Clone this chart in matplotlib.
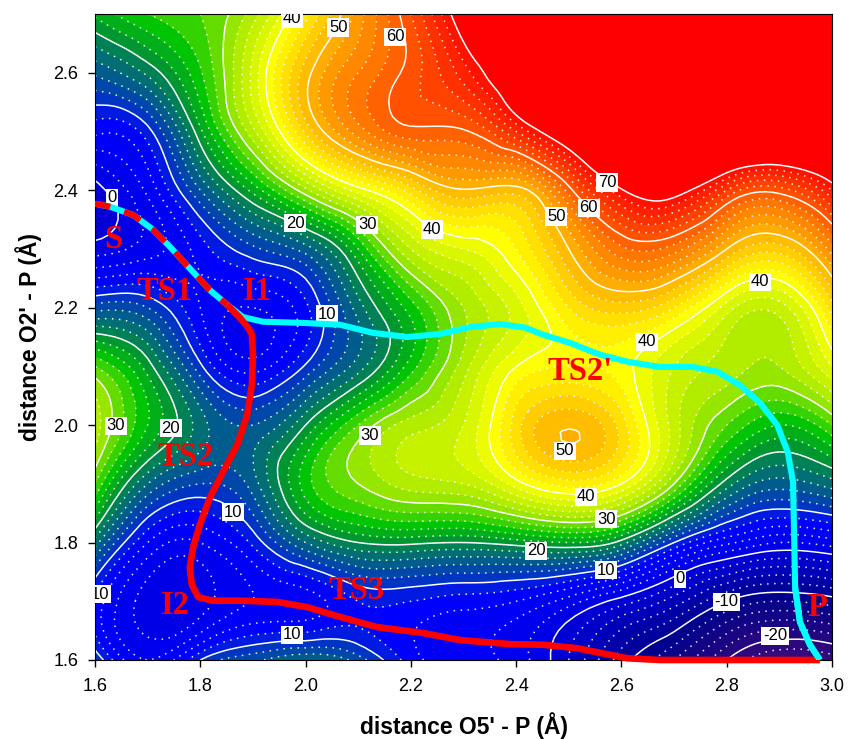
#!/usr/bin/env python3
import numpy as np
import matplotlib
matplotlib.use("Agg")
import matplotlib.pyplot as plt
import matplotlib.tri as mtri
from matplotlib.colors import LinearSegmentedColormap, BoundaryNorm

# energy surface, rows from y = 2.7 down to y = 1.6
x_vals = [1.6, 1.7, 1.8, 1.9, 2.0, 2.1, 2.2, 2.3, 2.4, 2.5, 2.6, 2.7, 2.8, 2.9, 3.0]
y_vals = [2.7, 2.6, 2.5, 2.4, 2.3, 2.2, 2.1, 2.0, 1.9, 1.8, 1.7, 1.6]
energy = [
    [22.4, 26, 28, 33, 43, 53, 62, 73, 85, 90, 90, 90, 90, 90, 90],
    [14.4, 18.5, 25.7, 36.6, 49, 56, 61, 67, 76, 86, 90, 90, 90, 90, 90],
    [6.5, 9.2, 21.5, 33.4, 46.4, 55, 59.3, 59.7, 66, 75, 84, 86, 84, 82, 84],
    [-1, 4.5, 14, 22.7, 31.4, 39, 45, 49.8, 49, 59, 69.7, 72, 64, 61, 68],
    [1, 3, 7, 11.5, 15, 24, 34, 38, 42, 50, 57.5, 57, 50, 47, 55],
    [13, 12, 6, 4, 7.5, 17, 25, 32, 37, 44, 47, 44, 37, 35, 45],
    [28, 21, 10.5, 5, 10.3, 17, 25, 33, 40, 42, 41, 36, 33, 32, 38],
    [33, 24, 17, 14, 20, 28, 33, 36, 45, 49.8, 45, 35, 28, 24, 28],
    [28, 16, 12, 15, 25, 30, 33, 34, 39, 43, 40, 30, 19, 15, 17],
    [17, 6, 4, 8.5, 16, 20, 20.5, 20, 21, 22, 19, 10, 4.5, 2, 3],
    [7.5, 1, 1, 4, 5, 8, 8, 7, 6, 3, -1, -5, -10, -12, -11],
    [12, 4, 10, 13.5, 16, 13, 7, 5, 3, -2, -9, -14, -20, -24, -23],
]

label_x = [1.974, 2.062, 2.170, 2.573, 2.538, 2.476, 2.240, 2.117, 1.980, 1.632, 2.041, 2.863, 2.649, 1.640,
           1.744, 2.122, 2.493, 2.533, 2.571, 2.438, 2.571, 2.711, 2.799, 2.892, 1.862, 1.610, 1.974]
label_y = [2.692, 2.677, 2.661, 2.413, 2.370, 2.355, 2.333, 2.341, 2.344, 2.387, 2.189, 2.244, 2.142, 1.999,
           1.995, 1.982, 1.956, 1.878, 1.840, 1.786, 1.753, 1.738, 1.699, 1.641, 1.852, 1.712, 1.643]
label_txt = ["40", "50", "60", "70", "60", "50", "40", "30", "20", "0", "10", "40", "40", "30",
             "20", "30", "50", "40", "30", "20", "10", "0", "-10", "-20", "10", "10", "10"]

# minimum energy paths
shared_x = [1.600, 1.628, 1.672, 1.710, 1.742, 1.786, 1.818, 1.851]
shared_y = [2.377, 2.372, 2.358, 2.333, 2.304, 2.261, 2.230, 2.205]
cyan_x = shared_x + [1.881, 1.919, 1.995, 2.065, 2.128, 2.193, 2.255, 2.312, 2.369, 2.417, 2.451, 2.502, 2.559,
                     2.611, 2.673, 2.736, 2.782, 2.825, 2.863, 2.896, 2.916, 2.926, 2.928, 2.930, 2.939, 2.958, 2.977]
cyan_y = shared_y + [2.184, 2.176, 2.174, 2.171, 2.157, 2.150, 2.155, 2.167, 2.172, 2.166, 2.154, 2.140, 2.120,
                     2.108, 2.099, 2.099, 2.091, 2.068, 2.038, 2.000, 1.954, 1.903, 1.813, 1.723, 1.665, 1.626, 1.600]
red_x = [1.875, 1.891, 1.898, 1.900, 1.898, 1.889, 1.870, 1.843, 1.818, 1.799, 1.786, 1.780, 1.784, 1.796, 1.824,
         1.875, 1.946, 2.003, 2.071, 2.136, 2.223, 2.293, 2.388, 2.451, 2.516, 2.611, 2.673, 2.977]
red_y = [2.183, 2.166, 2.154, 2.120, 2.068, 2.017, 1.966, 1.920, 1.876, 1.830, 1.791, 1.757, 1.728, 1.707, 1.701,
         1.701, 1.699, 1.690, 1.672, 1.656, 1.646, 1.634, 1.627, 1.626, 1.620, 1.603, 1.600, 1.600]

state_x = [1.634, 1.733, 1.909, 1.771, 2.522, 1.753, 2.097, 2.973]
state_y = [2.316, 2.227, 2.227, 1.947, 2.091, 1.692, 1.719, 1.690]
state_txt = ["S", "TS1", "I1", "TS2", "TS2'", "I2", "TS3", "P"]

plt.rcParams['font.family'] = ['Liberation Sans', 'DejaVu Sans']

X, Y = np.meshgrid(x_vals, y_vals)
Z = np.array(energy, dtype=float)

# smooth the coarse table with matplotlib's own triangulation refiner
tri = mtri.Triangulation(X.ravel(), Y.ravel())
refiner = mtri.UniformTriRefiner(tri)
tri_fine, z_fine = refiner.refine_field(Z.ravel(), subdiv=3)

colors = [(-26, "#3c0a78"), (-12, "#00008c"), (0, "#0000e6"), (6, "#0000ff"), (10, "#0038c0"), (16, "#007070"),
          (20, "#009830"), (24, "#00c800"), (30, "#9ee800"), (36, "#dcf800"), (40, "#ffff00"), (50, "#ffaa00"),
          (60, "#ff5000"), (70, "#ff0000")]
lo, hi = colors[0][0], colors[-1][0]
cmap = LinearSegmentedColormap.from_list("pes", [((v - lo) / (hi - lo), c) for v, c in colors], N=256)
cmap.set_over("#ff0000")
levels = np.arange(-26, 72, 2)
norm = BoundaryNorm(levels, 256, extend="max")

fig = plt.figure(figsize=(8.48, 7.39), dpi=100)
ax = fig.add_axes([95 / 848, 1 - 660 / 739, 737 / 848, 646 / 739])

ax.tricontourf(tri_fine, z_fine, levels=levels, cmap=cmap, norm=norm, extend="max")

minor = [v for v in levels if v % 10 != 0]
major = [v for v in levels if v % 10 == 0]
ax.tricontour(tri_fine, z_fine, levels=minor, colors="white", linewidths=1.1, alpha=0.9,
              linestyles=[(0, (1, 3.6))])
ax.tricontour(tri_fine, z_fine, levels=major, colors="white", linewidths=1.1, linestyles="solid")

ax.plot(cyan_x, cyan_y, color="#00ffff", lw=4.4, solid_capstyle="butt", zorder=5)
ax.plot(shared_x[:2], shared_y[:2], color="#ff0000", lw=4.4, solid_capstyle="butt", zorder=6)
ax.plot(shared_x[1:], shared_y[1:], color="#ff0000", lw=4.4, linestyle=(2.9, (3.0, 2.4)), dash_capstyle="butt",
        zorder=6)
ax.plot(shared_x[-1:] + red_x, shared_y[-1:] + red_y, color="#ff0000", lw=4.8, solid_capstyle="butt", zorder=6,
        clip_on=False)
# cyan end on top of the red line
ax.plot(cyan_x[-4:], cyan_y[-4:], color="#00ffff", lw=4.4, solid_capstyle="butt", zorder=7)

for tx, ty, s in zip(label_x, label_y, label_txt):
    ax.text(tx, ty, s, fontsize=12, ha="center", va="center", color="black", zorder=4, clip_on=True,
            bbox=dict(facecolor="white", edgecolor="none", pad=1.2))

for tx, ty, s in zip(state_x, state_y, state_txt):
    ax.text(tx, ty, s, fontsize=23.5, fontweight="bold", family="Liberation Serif", color="#ff0000", ha="center",
            va="center", zorder=7)

ax.set_xlim(1.6, 3.0)
ax.set_ylim(1.6, 2.7)
ax.set_xticks(np.arange(1.6, 3.01, 0.2))
ax.set_yticks(np.arange(1.6, 2.61, 0.2))
ax.tick_params(axis="x", direction="out", length=5, width=1, labelsize=13, pad=8)
ax.tick_params(axis="y", direction="out", length=5, width=1, labelsize=13, pad=7)
ax.set_xlabel("distance O5' - P (Å)", fontsize=16.5, fontweight="bold", labelpad=12)
ax.set_ylabel("distance O2' - P (Å)", fontsize=16.5, fontweight="bold", labelpad=8)

fig.savefig("out.png", dpi=100)
